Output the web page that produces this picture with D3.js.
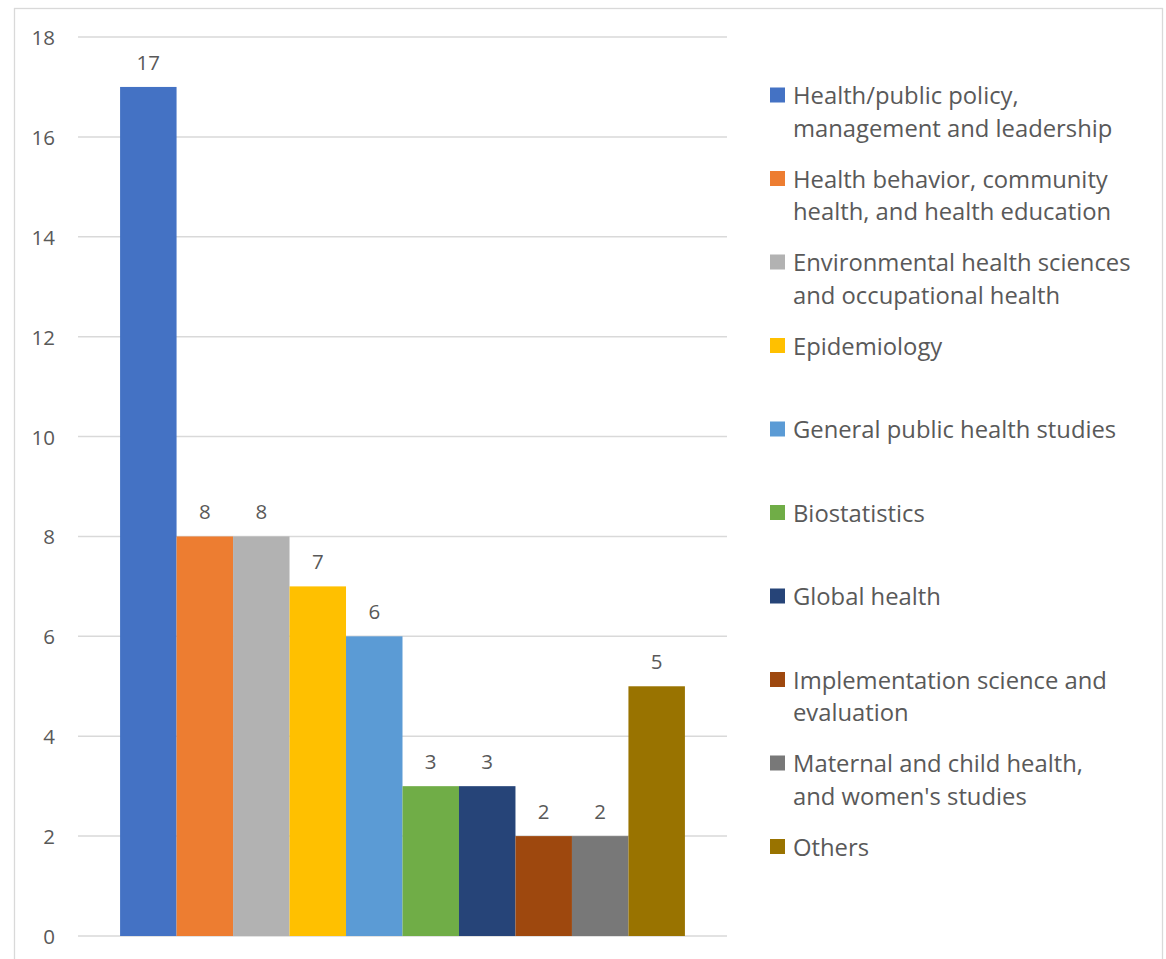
<!DOCTYPE html>
<html><head><meta charset="utf-8">
<script src="https://cdn.jsdelivr.net/npm/d3@7"></script>
<style>body{margin:0;background:#fff}svg{display:block}</style>
</head><body><svg id="c" width="1166" height="959"></svg>
<script>
const categories = [
  "Health/public policy, management and leadership",
  "Health behavior, community health, and health education",
  "Environmental health sciences and occupational health",
  "Epidemiology",
  "General public health studies",
  "Biostatistics",
  "Global health",
  "Implementation science and evaluation",
  "Maternal and child health, and women's studies",
  "Others"
];
const legendLines = [
  ["Health/public policy,", "management and leadership"],
  ["Health behavior, community", "health, and health education"],
  ["Environmental health sciences", "and occupational health"],
  ["Epidemiology"],
  ["General public health studies"],
  ["Biostatistics"],
  ["Global health"],
  ["Implementation science and", "evaluation"],
  ["Maternal and child health,", "and women's studies"],
  ["Others"]
];
const values = [17, 8, 8, 7, 6, 3, 3, 2, 2, 5];
const colors = ["#4472C4","#ED7D31","#B2B2B2","#FFC000","#5B9BD5","#70AD47","#264478","#9E480E","#787878","#997300"];
const yTicks = [0, 2, 4, 6, 8, 10, 12, 14, 16, 18];

const svg = d3.select("#c");
const font = "'Open Sans', Lato, sans-serif";
const textCol = "#595959";

svg.append("rect").attr("x",14.5).attr("y",8.5).attr("width",1148).attr("height",980)
  .attr("fill","#fff").attr("stroke","#D9D9D9").attr("stroke-width",1.3);

const x = d3.scaleBand().domain(categories).range([78, 727]).paddingInner(0).paddingOuter(0.745);
const y = d3.scaleLinear().domain([0, 18]).range([936, 37]);

svg.append("g").selectAll("line").data(yTicks).join("line")
  .attr("x1",78).attr("x2",727).attr("y1",d=>y(d)).attr("y2",d=>y(d))
  .attr("stroke","#D9D9D9").attr("stroke-width",1.5);

svg.append("g").selectAll("text").data(yTicks).join("text")
  .attr("x",55).attr("y",d=>y(d)).attr("text-anchor","end").attr("dominant-baseline","central")
  .attr("font-family",font).attr("font-size",20.5).attr("fill",textCol).text(d=>d);

svg.append("g").selectAll("rect").data(values).join("rect")
  .attr("x",(d,i)=>x(categories[i])).attr("width",x.bandwidth())
  .attr("y",d=>y(d)).attr("height",d=>y(0)-y(d)).attr("fill",(d,i)=>colors[i]);

svg.append("g").selectAll("text").data(values).join("text")
  .attr("x",(d,i)=>x(categories[i])+x.bandwidth()/2).attr("y",d=>y(d)-25)
  .attr("text-anchor","middle").attr("dominant-baseline","central")
  .attr("font-family",font).attr("font-size",20.5).attr("fill",textCol).text(d=>d);

const lg = svg.append("g");
legendLines.forEach((lines,i)=>{
  const y0 = 95 + 83.5*i;
  lg.append("rect").attr("x",770).attr("y",y0-7.5).attr("width",15).attr("height",15).attr("fill",colors[i]);
  lines.forEach((t,k)=>{
    lg.append("text").attr("x",793).attr("y",y0+k*32.5).attr("dominant-baseline","central")
      .attr("font-family",font).attr("font-size",23.8).attr("fill",textCol).text(t);
  });
});
</script></body></html>
